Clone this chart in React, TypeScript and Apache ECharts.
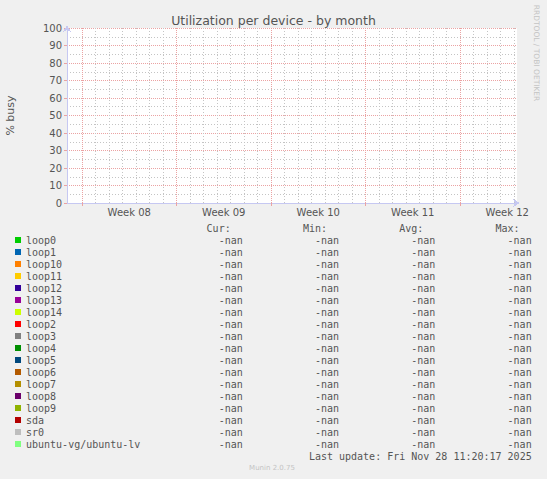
import { useEffect, useRef } from 'react';
import * as echarts from 'echarts';

// munin "diskstats utilization" month graph, all values nan
const devices = [
  'loop0', 'loop1', 'loop10', 'loop11', 'loop12', 'loop13', 'loop14', 'loop2', 'loop3',
  'loop4', 'loop5', 'loop6', 'loop7', 'loop8', 'loop9', 'sda', 'sr0', 'ubuntu-vg/ubuntu-lv',
];
const colors = [
  '#00cc00', '#0066b3', '#ff8000', '#ffcc00', '#330099', '#990099', '#ccff00', '#ff0000', '#808080',
  '#008f00', '#00487d', '#b35a00', '#b38f00', '#6b006b', '#8fb300', '#b30000', '#bebebe', '#80ff80',
];
const curValues = ['-nan', '-nan', '-nan', '-nan', '-nan', '-nan', '-nan', '-nan', '-nan', '-nan', '-nan', '-nan', '-nan', '-nan', '-nan', '-nan', '-nan', '-nan'];
const minValues = ['-nan', '-nan', '-nan', '-nan', '-nan', '-nan', '-nan', '-nan', '-nan', '-nan', '-nan', '-nan', '-nan', '-nan', '-nan', '-nan', '-nan', '-nan'];
const avgValues = ['-nan', '-nan', '-nan', '-nan', '-nan', '-nan', '-nan', '-nan', '-nan', '-nan', '-nan', '-nan', '-nan', '-nan', '-nan', '-nan', '-nan', '-nan'];
const maxValues = ['-nan', '-nan', '-nan', '-nan', '-nan', '-nan', '-nan', '-nan', '-nan', '-nan', '-nan', '-nan', '-nan', '-nan', '-nan', '-nan', '-nan', '-nan'];

// x axis in days from the left edge of the plot
const xMax = 33.33;
const weekStarts = [1.11, 8.11, 15.11, 22.11, 29.11];
const weekLabelAt = [4.61, 11.61, 18.61, 25.61, 32.61];
const weekLabels = ['Week 08', 'Week 09', 'Week 10', 'Week 11', 'Week 12'];

const SANS = 'DejaVu Sans';
const MONO = 'DejaVu Sans Mono';
const TEXT = '#555555';
const RED = '#eba3a3';
const GREY = '#c4c4c4';
const AXIS = '#c6c8f2';
const CH = 6.02; // mono char width at 10px

function buildOption(): echarts.EChartsOption {
  const dayLines: number[] = [];
  for (let d = 1; d <= 33; d += 1) {
    const v = 0.11 + d;
    if (v < xMax && !weekStarts.some((w) => Math.abs(w - v) < 0.01)) dayLines.push(v);
  }

  const series: echarts.SeriesOption[] = devices.map((name, i) => ({
    name,
    type: 'line',
    data: [],
    showSymbol: false,
    itemStyle: { color: colors[i] },
    lineStyle: { color: colors[i], width: 1 },
  }));
  // day grid
  series.push({
    name: '__days',
    type: 'line',
    data: [],
    silent: true,
    markLine: {
      silent: true,
      symbol: ['none', 'none'],
      label: { show: false },
      lineStyle: { color: GREY, type: [1, 2], width: 1 },
      data: dayLines.map((v) => ({ xAxis: v })),
    },
  });
  // week grid
  series.push({
    name: '__weeks',
    type: 'line',
    data: [],
    silent: true,
    markLine: {
      silent: true,
      symbol: ['none', 'none'],
      label: { show: false },
      lineStyle: { color: RED, type: [1, 1], width: 1 },
      data: weekStarts.map((v) => ({ xAxis: v })),
    },
  });

  const mono = { fontFamily: MONO, fontSize: 10, color: TEXT, lineHeight: 12, height: 12 };

  return {
    animation: false,
    backgroundColor: '#f0f0f0',
    textStyle: { fontFamily: SANS },
    title: {
      text: 'Utilization per device - by month',
      left: 'center',
      top: 9,
      textStyle: { fontFamily: SANS, fontSize: 12.5, fontWeight: 'normal', color: TEXT },
    },
    grid: {
      left: 67, top: 28, width: 450, height: 175,
      containLabel: false,
      outerBoundsMode: 'none',
      show: true, backgroundColor: '#ffffff', borderWidth: 0,
    } as echarts.GridComponentOption,
    xAxis: {
      type: 'value',
      min: 0,
      max: xMax,
      axisLine: {
        show: true,
        lineStyle: { color: AXIS, width: 1 },
        symbol: ['none', 'arrow'],
        symbolSize: [6, 7],
        symbolOffset: [0, 3],
      },
      axisTick: { show: true, length: 3, customValues: weekStarts, lineStyle: { color: RED } },
      axisLabel: {
        customValues: weekLabelAt,
        margin: 4,
        color: TEXT,
        fontFamily: SANS,
        fontSize: 10,
        hideOverlap: false,
        formatter: (v: number) => weekLabels[weekLabelAt.findIndex((p) => Math.abs(p - v) < 0.01)] ?? '',
      },
      splitLine: { show: false },
    },
    yAxis: {
      type: 'value',
      min: 0,
      max: 100,
      interval: 10,
      name: '% busy',
      nameLocation: 'middle',
      nameRotate: 90,
      nameGap: 51,
      nameMoveOverlap: false,
      nameTextStyle: { fontFamily: SANS, fontSize: 11, color: TEXT },
      axisLine: {
        show: true,
        lineStyle: { color: AXIS, width: 1 },
        symbol: ['none', 'arrow'],
        symbolSize: [6, 7],
        symbolOffset: [0, 3],
      },
      axisTick: { show: true, length: 3, lineStyle: { color: RED } },
      axisLabel: { margin: 5, color: TEXT, fontFamily: SANS, fontSize: 10 },
      splitLine: { show: true, showMinLine: false, lineStyle: { color: RED, type: [1, 1], width: 1 } },
      minorTick: { show: false, splitNumber: 2 },
      minorSplitLine: { show: true, lineStyle: { color: GREY, type: [1, 2], width: 1 } },
    } as echarts.YAXisComponentOption,
    legend: {
      data: devices,
      orient: 'vertical',
      left: 15,
      top: 234,
      icon: 'rect',
      itemWidth: 6,
      itemHeight: 6,
      itemGap: 0,
      selectedMode: false,
      padding: 0,
      textStyle: {
        ...mono,
        rich: {
          n: { ...mono, width: 32 * CH },
          c: { ...mono, width: 4 * CH, align: 'right' },
          m: { ...mono, width: 16 * CH, align: 'right' },
          a: { ...mono, width: 16 * CH, align: 'right' },
          x: { ...mono, width: 16 * CH, align: 'right' },
        },
      },
      formatter: (name: string) => {
        const i = devices.indexOf(name);
        return `{n|${name}}{c|${curValues[i]}}{m|${minValues[i]}}{a|${avgValues[i]}}{x|${maxValues[i]}}`;
      },
    },
    graphic: [
      ...['Cur:', 'Min:', 'Avg:', 'Max:'].map((t, i) => ({
        type: 'text' as const,
        x: 26 + (34 + 16 * i) * CH,
        y: 228,
        style: { text: t, fill: TEXT, font: `10px "${MONO}"`, textAlign: 'right' as const, textVerticalAlign: 'middle' as const },
      })),
      {
        type: 'text',
        x: 26 + 84 * CH,
        y: 456,
        style: { text: 'Last update: Fri Nov 28 11:20:17 2025', fill: TEXT, font: `10px "${MONO}"`, textAlign: 'right', textVerticalAlign: 'middle' },
      },
      {
        type: 'text',
        x: 272,
        y: 468,
        style: { text: 'Munin 2.0.75', fill: '#c4c4c4', font: `7px "${SANS}"`, textAlign: 'center', textVerticalAlign: 'middle' },
      },
      {
        type: 'text',
        x: 536,
        y: 53,
        rotation: -Math.PI / 2,
        style: { text: 'RRDTOOL / TOBI OETIKER', fill: '#c4c4c4', font: `7.5px "${SANS}"`, textAlign: 'center', textVerticalAlign: 'middle' },
      },
    ],
    series,
  };
}

export default function App() {
  const ref = useRef<HTMLDivElement | null>(null);
  useEffect(() => {
    if (!ref.current) return;
    const chart = echarts.init(ref.current, undefined, { renderer: 'svg' });
    chart.setOption(buildOption());
    // munin draws its grid on whole pixels
    const svg = ref.current.querySelector('svg');
    if (svg) svg.style.shapeRendering = 'crispEdges';
    return () => chart.dispose();
  }, []);
  return <div ref={ref} style={{ position: 'absolute', left: 0, top: 0, width: 547, height: 479 }} />;
}
